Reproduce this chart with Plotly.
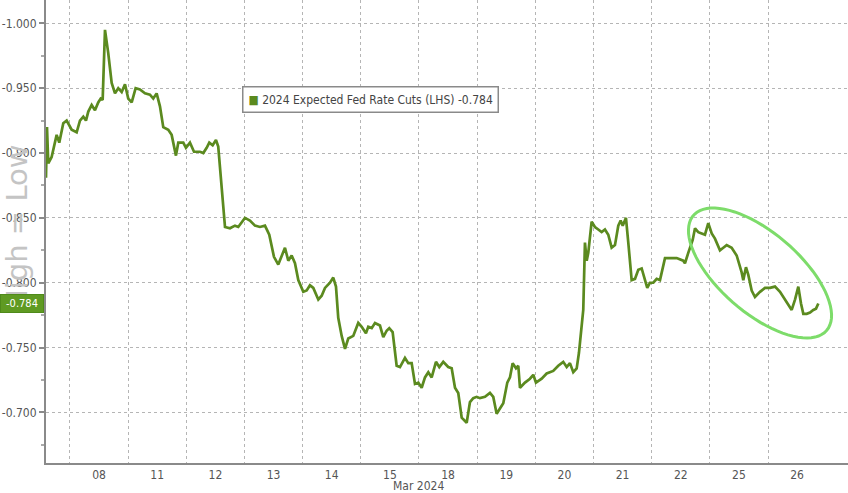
import numpy as np
import plotly.graph_objects as go

# ---- data ----
day_labels = ["08", "11", "12", "13", "14", "15", "18", "19", "20", "21", "22", "25", "26"]
day_label_pos = [1.5, 2.5, 3.5, 4.5, 5.5, 6.5, 7.5, 8.5, 9.5, 10.5, 11.5, 12.5, 13.5]
day_bounds = [1, 2, 3, 4, 5, 6, 7, 8, 9, 10, 11, 12, 13]

# time in trading-day units (07 Mar session = 0..1)
t = [0.588, 0.605, 0.627, 0.685, 0.771, 0.816, 0.885, 0.943, 1.029, 1.115,
     1.172, 1.229, 1.275, 1.315, 1.373, 1.430, 1.486, 1.528, 1.562, 1.602,
     1.658, 1.717, 1.774, 1.830, 1.889, 1.946, 2.002, 2.061, 2.129, 2.203,
     2.289, 2.375, 2.432, 2.490, 2.547, 2.604, 2.690, 2.748, 2.822, 2.862,
     2.948, 2.994, 3.063, 3.132, 3.235, 3.292, 3.350, 3.395, 3.453, 3.510,
     3.549, 3.608, 3.665, 3.751, 3.837, 3.893, 3.952, 4.008, 4.094, 4.180,
     4.266, 4.352, 4.426, 4.467, 4.507, 4.581, 4.639, 4.696, 4.753, 4.811,
     4.868, 4.925, 5.011, 5.069, 5.126, 5.183, 5.269, 5.327, 5.384, 5.470,
     5.526, 5.573, 5.612, 5.671, 5.728, 5.784, 5.870, 5.956, 6.015, 6.088,
     6.128, 6.187, 6.243, 6.329, 6.386, 6.444, 6.489, 6.547, 6.616, 6.673,
     6.759, 6.816, 6.874, 6.931, 6.988, 7.046, 7.103, 7.160, 7.218, 7.292,
     7.349, 7.417, 7.503, 7.562, 7.619, 7.675, 7.734, 7.820, 7.876, 7.933,
     7.992, 8.048, 8.134, 8.220, 8.277, 8.335, 8.392, 8.449, 8.518, 8.564,
     8.610, 8.667, 8.707, 8.736, 8.822, 8.908, 8.965, 9.011, 9.109, 9.195,
     9.308, 9.394, 9.480, 9.539, 9.595, 9.652, 9.711, 9.750, 9.824, 9.853,
     9.883, 9.910, 9.968, 10.025, 10.082, 10.140, 10.197, 10.254, 10.312, 10.369,
     10.426, 10.467, 10.502, 10.558, 10.598, 10.656, 10.713, 10.770, 10.828, 10.868,
     10.924, 10.971, 11.028, 11.086, 11.143, 11.229, 11.315, 11.430, 11.543, 11.572,
     11.629, 11.705, 11.745, 11.801, 11.860, 11.916, 11.973, 12.032, 12.088, 12.174,
     12.231, 12.289, 12.375, 12.461, 12.547, 12.575, 12.621, 12.661, 12.719, 12.776,
     12.862, 12.948, 13.034, 13.120, 13.206, 13.263, 13.349, 13.407, 13.464, 13.521,
     13.567, 13.607, 13.665, 13.722, 13.779, 13.825, 13.865]

cuts = [-0.881, -0.920, -0.892, -0.897, -0.914, -0.908, -0.923, -0.925, -0.918, -0.916,
        -0.925, -0.928, -0.925, -0.932, -0.937, -0.933, -0.939, -0.942, -0.941, -0.995,
        -0.977, -0.954, -0.946, -0.950, -0.947, -0.953, -0.942, -0.939, -0.950, -0.949,
        -0.946, -0.945, -0.942, -0.946, -0.936, -0.920, -0.918, -0.914, -0.898, -0.908,
        -0.908, -0.904, -0.908, -0.901, -0.901, -0.900, -0.904, -0.908, -0.906, -0.910,
        -0.905, -0.874, -0.843, -0.842, -0.844, -0.843, -0.847, -0.850, -0.848, -0.844,
        -0.843, -0.844, -0.837, -0.827, -0.820, -0.814, -0.820, -0.827, -0.817, -0.821,
        -0.815, -0.802, -0.793, -0.794, -0.798, -0.796, -0.787, -0.790, -0.796, -0.800,
        -0.804, -0.797, -0.773, -0.759, -0.749, -0.757, -0.759, -0.769, -0.766, -0.761,
        -0.766, -0.765, -0.769, -0.767, -0.758, -0.763, -0.765, -0.762, -0.736, -0.735,
        -0.742, -0.738, -0.738, -0.722, -0.723, -0.719, -0.727, -0.731, -0.727, -0.739,
        -0.735, -0.739, -0.735, -0.734, -0.719, -0.715, -0.696, -0.692, -0.708, -0.711,
        -0.712, -0.711, -0.712, -0.715, -0.712, -0.699, -0.703, -0.707, -0.723, -0.727,
        -0.738, -0.734, -0.736, -0.719, -0.723, -0.726, -0.729, -0.723, -0.726, -0.730,
        -0.732, -0.736, -0.739, -0.735, -0.738, -0.731, -0.734, -0.746, -0.779, -0.831,
        -0.817, -0.823, -0.847, -0.843, -0.841, -0.839, -0.841, -0.837, -0.827, -0.829,
        -0.844, -0.848, -0.844, -0.850, -0.831, -0.802, -0.803, -0.810, -0.811, -0.804,
        -0.796, -0.800, -0.800, -0.803, -0.802, -0.819, -0.819, -0.819, -0.817, -0.815,
        -0.823, -0.833, -0.842, -0.839, -0.838, -0.837, -0.846, -0.838, -0.834, -0.825,
        -0.827, -0.829, -0.827, -0.821, -0.808, -0.802, -0.812, -0.806, -0.794, -0.789,
        -0.793, -0.796, -0.796, -0.797, -0.793, -0.789, -0.784, -0.779, -0.787, -0.797,
        -0.784, -0.776, -0.776, -0.777, -0.779, -0.780, -0.784]

y_ticks = [-1.000, -0.950, -0.900, -0.850, -0.800, -0.750, -0.700]
last_value = cuts[-1]
series_name = "2024 Expected Fed Rate Cuts (LHS)"

# ---- figure ----
W, H = 848, 493
ML, MR, MT, MB = 46, 0, 0, 30
PW, PH = W - ML - MR, H - MT - MB
LINE_COLOR = "#5b8a1f"
FONT = "Liberation Sans Narrow, DejaVu Sans Condensed, Arial Narrow, Liberation Sans, sans-serif"

fig = go.Figure()
fig.add_trace(go.Scatter(x=t, y=cuts, mode="lines", name=series_name,
                         line=dict(color=LINE_COLOR, width=2.7), showlegend=False))

fig.update_layout(
    width=W, height=H,
    margin=dict(l=ML, r=MR, t=MT, b=MB, autoexpand=False),
    paper_bgcolor="white", plot_bgcolor="white",
    font=dict(family=FONT, size=12, color="#555555"),
    xaxis=dict(
        range=[0.588, 14.375], showgrid=False, zeroline=False,
        tickmode="array", tickvals=day_label_pos, ticktext=day_labels,
        ticks="", showline=True, linecolor="#8a8a8a", linewidth=2,
        tickfont=dict(size=12, color="#555555"),
        minor=dict(tickmode="array", tickvals=day_bounds, showgrid=True,
                   gridcolor="#b5b5b5", griddash="dot", gridwidth=1, ticks=""),
    ),
    yaxis=dict(
        range=[-0.661, -1.018], tickmode="array", tickvals=y_ticks,
        ticktext=[f"{v:.3f}" for v in y_ticks],
        showgrid=True, gridcolor="#b5b5b5", griddash="dot", gridwidth=1,
        zeroline=False, showline=True, linecolor="#8a8a8a", linewidth=2,
        ticks="outside", ticklen=5, tickcolor="#8a8a8a", tickwidth=1.5,
        tickfont=dict(size=12, color="#555555"),
        minor=dict(dtick=0.025, tick0=-1.0, ticks="outside", ticklen=3,
                   tickcolor="#aaaaaa", showgrid=False),
    ),
)

# watermark
fig.add_annotation(xref="paper", yref="paper", x=(17 - ML) / PW, y=1 - 228 / PH,
                   text="High = Low", textangle=-90, showarrow=False,
                   font=dict(family="DejaVu Sans, sans-serif", size=29, color="#c4c4c4"),
                   xanchor="center", yanchor="middle")

# legend box
fig.add_annotation(xref="paper", yref="paper",
                   x=(370 - ML) / PW, y=1 - 100 / PH,
                   text=f"<span style='color:{LINE_COLOR}'>■</span> {series_name} {last_value:.3f}",
                   showarrow=False, bgcolor="white", bordercolor="#8a8a8a", borderwidth=1.5,
                   borderpad=5, font=dict(size=12, color="#444444"),
                   xanchor="center", yanchor="middle")

# last value tag
fig.add_annotation(xref="paper", yref="y", x=0, y=last_value, xshift=-2,
                   text=f"{last_value:.3f}", showarrow=False, bgcolor="#5f9a22",
                   bordercolor="#4f8a1a", borderwidth=1, borderpad=2, width=38,
                   font=dict(size=11, color="white"), xanchor="right", yanchor="middle")

# month label
fig.add_annotation(xref="x", yref="paper", x=7.0, y=-(486 - PH) / PH,
                   text="Mar 2024", showarrow=False, font=dict(size=12, color="#555555"),
                   xanchor="center", yanchor="middle")

# highlight ellipse (pixel-defined, converted to paper coordinates)
cx, cy, a, b, ang = 760, 273, 88, 40, np.deg2rad(40.8)
pts = []
for s in np.linspace(0, 2 * np.pi, 80):
    px = cx + a * np.cos(s) * np.cos(ang) - b * np.sin(s) * np.sin(ang)
    py = cy + a * np.cos(s) * np.sin(ang) + b * np.sin(s) * np.cos(ang)
    pts.append(((px - ML) / PW, 1 - (py - MT) / PH))
path = "M " + " L ".join(f"{x:.4f},{y:.4f}" for x, y in pts) + " Z"
fig.add_shape(type="path", xref="paper", yref="paper", path=path,
              line=dict(color="#7ddc6a", width=3))

fig.write_html("out.html", config={"displayModeBar": False},
               post_script="document.body.style.margin='0';document.body.style.overflow='hidden';")
